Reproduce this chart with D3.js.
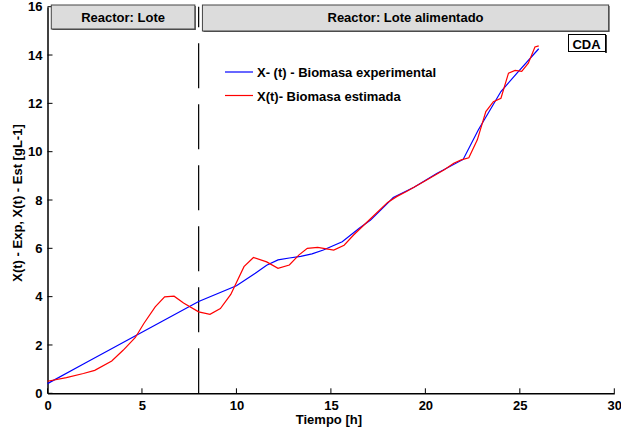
<!DOCTYPE html>
<html><head><meta charset="utf-8">
<script src="https://cdn.jsdelivr.net/npm/d3@7/dist/d3.min.js"></script>
<style>
html,body{margin:0;padding:0;background:#fff;}
text{font-family:"Liberation Sans",Arial,sans-serif;font-weight:bold;font-size:13px;fill:#000;}
</style></head>
<body><svg id="c" width="621" height="433"></svg>
<script>
const expT = [0, 2, 4, 6, 8, 10, 11, 11.6, 12.2, 12.8, 13.4, 14, 14.6, 15.6, 16.5, 17.1, 17.9, 18.3, 19.4, 20.6, 22.0, 22.8, 24.0, 24.85, 26.0];
const expX = [0.4, 1.25, 2.1, 2.95, 3.8, 4.45, 4.97, 5.3, 5.52, 5.6, 5.67, 5.77, 5.93, 6.27, 6.83, 7.17, 7.79, 8.1, 8.53, 9.1, 9.68, 10.9, 12.49, 13.25, 14.26];
const estT = [0, 1, 1.9, 2.5, 3.4, 4.0, 4.65, 5.1, 5.7, 6.2, 6.7, 7.2, 8.0, 8.6, 9.15, 9.7, 10.4, 10.9, 11.6, 12.2, 12.8, 13.3, 13.75, 14.3, 15.15, 15.7, 16.2, 17, 18, 18.5, 19, 20, 21, 21.5, 21.9, 22.3, 22.75, 23.2, 23.6, 24.0, 24.4, 24.75, 25.1, 25.45, 25.8, 26.0];
const estX = [0.5, 0.65, 0.82, 0.95, 1.34, 1.78, 2.31, 2.89, 3.58, 3.99, 4.02, 3.74, 3.37, 3.27, 3.51, 4.09, 5.24, 5.62, 5.44, 5.17, 5.31, 5.72, 6.0, 6.04, 5.93, 6.13, 6.55, 7.15, 7.9, 8.15, 8.35, 8.8, 9.25, 9.52, 9.66, 9.75, 10.49, 11.66, 12.07, 12.21, 13.25, 13.36, 13.32, 13.66, 14.33, 14.38];
const xTicks = [0, 5, 10, 15, 20, 25, 30];
const yTicks = [0, 2, 4, 6, 8, 10, 12, 14, 16];
const seriesNames = ["X- (t) - Biomasa experimental", "X(t)- Biomasa estimada"];
const seriesColors = ["#0000ff", "#ff0000"];
const phaseLabels = ["Reactor: Lote", "Reactor: Lote alimentado"];
const phaseRanges = [[0.2, 7.8], [8.2, 29.7]];
const switchT = 8;

const svg = d3.select("#c");
const x = d3.scaleLinear().domain([0, 30]).range([47.5, 614.3]);
const y = d3.scaleLinear().domain([0, 16]).range([393.3, 6.7]);

// axes
const xAxis = d3.axisBottom(x).tickValues(xTicks).tickSize(0).tickPadding(7);
const gx = svg.append("g").attr("transform", `translate(0,${y(0)})`).call(xAxis);
gx.select(".domain").attr("stroke", "#000").attr("stroke-width", 1.5);
gx.selectAll("text").style("font-size", "13px");
gx.selectAll(".tk").data(xTicks).enter().append("line")
  .attr("x1", d => x(d)).attr("x2", d => x(d)).attr("y1", 0).attr("y2", -5)
  .attr("stroke", "#000");

const yAxis = d3.axisLeft(y).tickValues(yTicks).tickSize(0).tickPadding(5);
const gy = svg.append("g").attr("transform", `translate(${x(0)},0)`).call(yAxis);
gy.select(".domain").attr("stroke", "#000").attr("stroke-width", 1.5);
gy.selectAll("text").style("font-size", "13px");
gy.selectAll(".tk").data(yTicks).enter().append("line")
  .attr("x1", 0).attr("x2", 5).attr("y1", d => y(d)).attr("y2", d => y(d))
  .attr("stroke", "#000");

// dashed switch line
svg.append("line").attr("x1", x(switchT)).attr("x2", x(switchT))
  .attr("y1", y(0)).attr("y2", y(16))
  .attr("stroke", "#000").attr("stroke-width", 1.2).attr("stroke-dasharray", "45,16");

// curves
const line = d3.line().x(d => x(d[0])).y(d => y(d[1]));
const expData = expT.map((t, i) => [t, expX[i]]);
const estData = estT.map((t, i) => [t, estX[i]]);
svg.append("path").datum(expData).attr("d", line).attr("fill", "none")
  .attr("stroke", seriesColors[0]).attr("stroke-width", 1.2);
svg.append("path").datum(estData).attr("d", line).attr("fill", "none")
  .attr("stroke", seriesColors[1]).attr("stroke-width", 1.2);

// phase boxes
phaseLabels.forEach((lab, i) => {
  const x0 = x(phaseRanges[i][0]), x1 = x(phaseRanges[i][1]);
  const h = i === 0 ? 24 : 26;
  svg.append("rect").attr("x", x0 + 1).attr("y", 6).attr("width", x1 - x0).attr("height", h)
    .attr("fill", "#555");
  svg.append("rect").attr("x", x0).attr("y", 5).attr("width", x1 - x0).attr("height", h)
    .attr("fill", "#dcdcdc").attr("stroke", "#444").attr("stroke-width", 1);
  svg.append("text").attr("x", (x0 + x1) / 2).attr("y", 22).attr("text-anchor", "middle").text(lab);
});

// legend
seriesNames.forEach((n, i) => {
  const ly = 72 + i * 23.5;
  svg.append("line").attr("x1", 225).attr("x2", 253).attr("y1", ly).attr("y2", ly)
    .attr("stroke", seriesColors[i]).attr("stroke-width", 1.2);
  svg.append("text").attr("x", 257).attr("y", ly + 5).text(n);
});

// CDA box
svg.append("rect").attr("x", 568.5).attr("y", 34.5).attr("width", 37).attr("height", 17)
  .attr("fill", "#fff").attr("stroke", "#000").attr("stroke-width", 1);
svg.append("line").attr("x1", 606).attr("x2", 606).attr("y1", 35).attr("y2", 53).attr("stroke", "#000").attr("stroke-width", 1.5);
svg.append("text").attr("x", 586.5).attr("y", 49).attr("text-anchor", "middle").text("CDA");

// axis titles
svg.append("text").attr("x", (x(0) + x(30)) / 2 - 2).attr("y", 424).attr("text-anchor", "middle").text("Tiempo [h]");
svg.append("text").attr("transform", "translate(22,203) rotate(-90)").attr("text-anchor", "middle")
  .text("X(t) - Exp, X(t) - Est [gL-1]");
</script></body></html>
